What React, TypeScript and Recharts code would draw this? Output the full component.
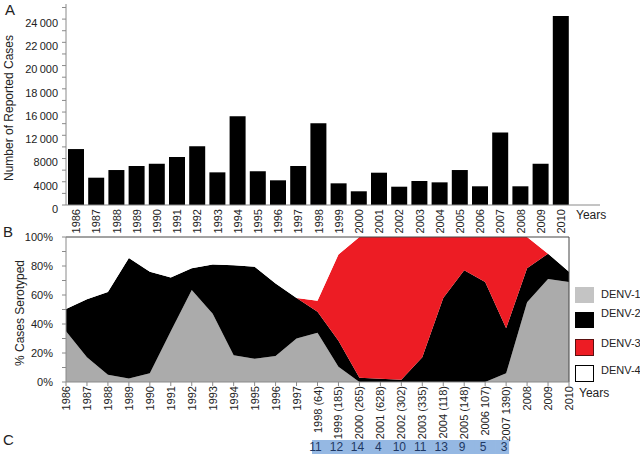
import React from 'react';
import { BarChart, Bar, XAxis, YAxis, AreaChart, Area, ReferenceLine } from 'recharts';

// ---------- Panel A data ----------
const years = [
  '1986', '1987', '1988', '1989', '1990', '1991', '1992', '1993', '1994', '1995', '1996', '1997',
  '1998', '1999', '2000', '2001', '2002', '2003', '2004', '2005', '2006', '2007', '2008', '2009', '2010',
];
const reportedCases = [
  9630, 4700, 6020, 6710, 7100, 8260, 10100, 5620, 15260, 5800, 4250, 6710,
  14060, 3730, 2360, 5560, 3150, 4130, 3900, 6020, 3220, 12500, 3220, 7100, 24260,
];
const caseTickValues = [0, 4000, 8000, 12000, 16000, 18000, 20000, 22000, 24000];

// ---------- Panel B data ----------
const serotypeLabels = [
  '1986', '1987', '1988', '1989', '1990', '1991', '1992', '1993', '1994', '1995', '1996', '1997',
  '1998 (64)', '1999 (185)', '2000 (265)', '2001 (628)', '2002 (302)', '2003 (335)', '2004 (118)',
  '2005 (148)', '2006 107)', '2007 1390)', '2008', '2009', '2010',
];
const denv1 = [35, 17, 5, 2.5, 6, 35, 63.5, 47, 18.5, 16, 18, 30, 34, 10.5, 0, 0, 0, 0, 0, 0, 0, 6, 55, 71, 69];
const denv2 = [15.3, 40, 57, 83, 70, 37, 15, 34, 62, 63.5, 50, 28, 14.5, 18, 3, 2.3, 1.6, 17, 58, 77, 69, 31, 23.5, 17.5, 7];
const denv3 = [0, 0, 0, 0, 0, 0, 0, 0, 0, 0, 0, 0, 7.5, 59.5, 97, 97.7, 98.4, 83, 42, 23, 31, 63, 21.5, 0, 0];
const percentTicks = [0, 10, 20, 30, 40, 50, 60, 70, 80, 90, 100];

// ---------- Panel C data ----------
const sampleLabels = [
  '1998 (64)', '1999 (185)', '2000 (265)', '2001 (628)', '2002 (302)', '2003 (335)', '2004 (118)',
  '2005 (148)', '2006 107)', '2007 1390)',
];
const sampleCounts = [11, 12, 14, 4, 10, 11, 13, 9, 5, 3];

const FONT = "'Liberation Sans', Arial, sans-serif";
const TEXT = '#222';
const AXIS = '#8a8a8a';

// piecewise mapping of case counts onto the (unevenly labelled) axis
const toAxisUnits = (v: number) => {
  const t = caseTickValues;
  for (let i = 0; i < t.length - 1; i++) {
    if (v <= t[i + 1]) return i + (v - t[i]) / (t[i + 1] - t[i]);
  }
  const n = t.length - 1;
  return n + (v - t[n]) / (t[n] - t[n - 1]);
};
const formatCases = (v: number) => (v >= 10000 ? `${Math.floor(v / 1000)}\u2009000` : `${v}`);

const barData = [
  ...years.map((y, i) => ({ year: y, cases: reportedCases[i], units: toAxisUnits(reportedCases[i]) })),
];
const unitTicks: number[] = [];
for (let i = 0; i <= (caseTickValues.length - 1) * 2 + 1; i++) unitTicks.push(i / 2);

const areaData = serotypeLabels.map((label, i) => ({
  label,
  d1: denv1[i],
  d2: denv2[i],
  d3: denv3[i],
  d4: Math.max(0, 100 - denv1[i] - denv2[i] - denv3[i]),
}));
const countMap: Record<string, number> = {};
sampleLabels.forEach((l, i) => (countMap[l] = sampleCounts[i]));

const RotTick = (props: any) => {
  const { x, y, payload } = props;
  return (
    <text
      x={x}
      y={y}
      dy={4}
      transform={`rotate(-90, ${x}, ${y})`}
      textAnchor="end"
      fontSize={11}
      fontFamily={FONT}
      fill={TEXT}
    >
      {payload.value}
    </text>
  );
};

const CaseYTick = (props: any) => {
  const { x, y, payload } = props;
  const v = payload.value;
  if (!Number.isInteger(v) || v >= caseTickValues.length) return <g />;
  return (
    <text x={x - 4} y={y + 4} dy="0.35em" textAnchor="end" fontSize={11} fontFamily={FONT} fill={TEXT}>
      {formatCases(caseTickValues[v])}
    </text>
  );
};

const PctYTick = (props: any) => {
  const { x, y, payload } = props;
  const v = payload.value;
  if (v % 20 !== 0) return <g />;
  return (
    <text x={x - 9} y={y} dy="0.35em" textAnchor="end" fontSize={11} fontFamily={FONT} fill={TEXT}>
      {`${v}%`}
    </text>
  );
};

const CountTick = (props: any) => {
  const { x, y, payload } = props;
  const c = countMap[payload.value];
  if (c == null) return <g />;
  const isFirst = payload.value === sampleLabels[0];
  const isLast = payload.value === sampleLabels[sampleLabels.length - 1];
  const left = isFirst ? x - 5.5 : x - 10.8;
  const right = isLast ? x + 3 : x + 10.8;
  return (
    <g>
      <rect x={left} y={y + 6} width={right - left} height={14} fill="#95b8e3" />
      <text x={x - 2} y={y + 13} dy="0.35em" textAnchor="middle" fontSize={12} fontFamily={FONT} fill="#1f3864">
        {c}
      </text>
    </g>
  );
};

export default function App() {
  return (
    <div style={{ position: 'absolute', left: 0, top: 0, width: 640, height: 458, background: '#fff', fontFamily: FONT }}>
      <div style={{ position: 'absolute', left: 0, top: 0 }}>
        <BarChart width={640} height={235} data={barData} margin={{ top: 4, right: 40, left: 0, bottom: 0 }}>
          <XAxis
            dataKey="year"
            type="category"
            interval={0}
            height={30}
            padding={{ left: 0, right: 29 }}
            stroke={AXIS}
            tickLine={false}
            tick={<RotTick />}
            tickSize={0}
            tickMargin={4}
          />
          <YAxis
            type="number"
            domain={[0, 8.65]}
            ticks={unitTicks}
            interval={0}
            allowDataOverflow
            width={66}
            stroke={AXIS}
            tickSize={4}
            tickMargin={0}
            tick={<CaseYTick />}
          />
          <Bar dataKey="units" fill="#000" barSize={16} isAnimationActive={false} />
        </BarChart>
      </div>
      <div style={{ position: 'absolute', left: 0, top: 230 }}>
        <AreaChart width={640} height={228} data={areaData} margin={{ top: 7, right: 71, left: 0, bottom: 2 }}>
          <XAxis
            dataKey="label"
            type="category"
            interval={0}
            height={52}
            stroke={AXIS}
            tickSize={4}
            tickMargin={0}
            tick={<RotTick />}
          />
          <XAxis
            xAxisId="c"
            dataKey="label"
            type="category"
            interval={0}
            height={22}
            axisLine={false}
            tickLine={false}
            tickSize={0}
            tickMargin={0}
            tick={<CountTick />}
          />
          <YAxis
            type="number"
            domain={[0, 100]}
            ticks={percentTicks}
            interval={0}
            width={66}
            stroke={AXIS}
            tickSize={4}
            tickMargin={0}
            tick={<PctYTick />}
          />
          <Area type="linear" dataKey="d1" stackId="s" stroke="none" fill="#ababab" fillOpacity={1} isAnimationActive={false} />
          <Area type="linear" dataKey="d2" stackId="s" stroke="none" fill="#000" fillOpacity={1} isAnimationActive={false} />
          <Area type="linear" dataKey="d3" stackId="s" stroke="none" fill="#ed1c24" fillOpacity={1} isAnimationActive={false} />
          <Area type="linear" dataKey="d4" stackId="s" stroke="none" fill="#fff" fillOpacity={1} isAnimationActive={false} />
          <ReferenceLine y={100} stroke="#444" strokeWidth={1} />
          <ReferenceLine x="2010" stroke="#444" strokeWidth={1} />
        </AreaChart>
      </div>
      <svg width={640} height={458} style={{ position: 'absolute', left: 0, top: 0, pointerEvents: 'none' }}>
        <g fontFamily={FONT} fill={TEXT}>
          <text x={5} y={10} dy="0.35em" fontSize={15}>A</text>
          <text x={3} y={232} dy="0.35em" fontSize={15}>B</text>
          <text x={3} y={440} dy="0.35em" fontSize={15}>C</text>
          <text x={9} y={108} dy="0.35em" fontSize={12} textAnchor="middle" transform="rotate(-90, 9, 108)">
            Number of Reported Cases
          </text>
          <text x={20} y={313} dy="0.35em" fontSize={12} textAnchor="middle" transform="rotate(-90, 20, 313)">
            % Cases Serotyped
          </text>
          <text x={576} y={215} dy="0.35em" fontSize={12}>Years</text>
          <text x={579} y={393} dy="0.35em" fontSize={12}>Years</text>
          <rect x={575} y={287} width={19} height={16} fill="#c4c4c4" />
          <rect x={575} y={312} width={19} height={16} fill="#000" />
          <rect x={575.5} y={339.5} width={18} height={16} fill="#ed1c24" stroke="#5a1010" />
          <rect x={575.5} y={365.5} width={18} height={16} fill="#fff" stroke="#000" />
          <text x={601} y={294} dy="0.35em" fontSize={11}>DENV-1</text>
          <text x={601} y={313} dy="0.35em" fontSize={11}>DENV-2</text>
          <text x={601} y={343} dy="0.35em" fontSize={11}>DENV-3</text>
          <text x={601} y={370} dy="0.35em" fontSize={11}>DENV-4</text>
        </g>
      </svg>
    </div>
  );
}
